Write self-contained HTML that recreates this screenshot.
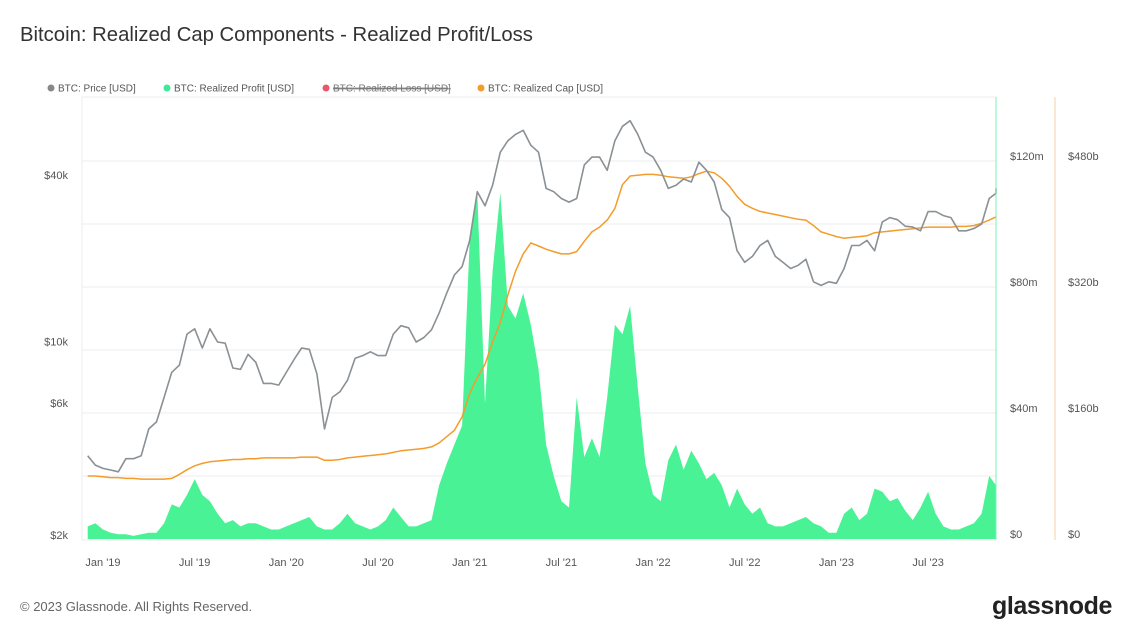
<!DOCTYPE html>
<html><head><meta charset="utf-8">
<style>
body{margin:0;background:#fff;width:1137px;height:631px;overflow:hidden;font-family:"Liberation Sans",sans-serif;}
svg{position:absolute;left:0;top:0}
text{font-family:"Liberation Sans",sans-serif}
</style></head>
<body>
<svg id="chart" width="1137" height="631">
<text x="20" y="41" font-size="20.3" fill="#333">Bitcoin: Realized Cap Components - Realized Profit/Loss</text>
<g font-size="10" fill="#555">
 <g><circle cx="51" cy="88" r="3.5" fill="#888"/><text x="58" y="91.5">BTC: Price [USD]</text></g>
 <g><circle cx="167" cy="88" r="3.5" fill="#3ee89a"/><text x="174" y="91.5">BTC: Realized Profit [USD]</text></g>
 <g><circle cx="326" cy="88" r="3.5" fill="#e8576a"/><text x="333" y="91.5" text-decoration="line-through" fill="#777">BTC: Realized Loss [USD]</text><line x1="333" y1="88" x2="448" y2="88" stroke="#777" stroke-width="0.8"/></g>
 <g><circle cx="481" cy="88" r="3.5" fill="#f39c2b"/><text x="488" y="91.5">BTC: Realized Cap [USD]</text></g>
</g>
<g id="grid"></g>
<g id="marks"></g>
<g id="axes"></g>
<text x="20" y="611" font-size="13" fill="#666">© 2023 Glassnode. All Rights Reserved.</text>
<text x="992" y="614" font-size="25" fill="#222" font-weight="bold" letter-spacing="-0.4">glassnode</text>
</svg>
<script>
const price=[4000,3700,3600,3550,3500,3900,3900,4000,5000,5300,6500,8000,8500,11000,11500,9800,11500,10300,10200,8300,8200,9300,8700,7300,7300,7200,8000,8900,9800,9700,7900,5000,6500,6800,7500,9000,9200,9500,9200,9200,11000,11800,11600,10300,10700,11400,13100,15500,18000,19300,24000,36000,32000,38000,50000,55000,58000,60000,53000,50000,37000,36000,34000,33000,34000,45000,48000,48000,43000,55000,62000,65000,58000,50000,48000,43000,37000,38000,40000,39000,46000,43000,39000,31000,29000,22000,20000,21000,23000,24000,21000,20000,19000,19500,20500,17000,16500,17000,16800,19000,23000,23000,24000,22000,28000,29000,28500,27000,26800,26000,30500,30500,29500,29000,26000,26000,26500,27500,34000,35500,37000];
const realizedCap=[80,80,79,78,78,77,77,76,76,76,76,77,82,88,93,96,98,99,100,101,101,102,102,103,103,103,103,103,104,104,104,100,100,101,103,104,105,106,107,108,110,112,113,114,115,117,122,130,138,155,185,205,222,250,275,310,340,362,376,372,368,365,362,362,365,378,390,396,405,420,450,461,462,463,463,462,460,459,458,460,464,467,465,458,448,435,425,420,416,414,412,410,408,406,405,398,390,387,384,382,383,384,385,389,390,391,392,393,394,395,396,396,396,396,397,397,398,401,405,409];
const realizedProfit=[4,5,3,2,1.5,1.5,1,1.5,2,2,5,11,10,14,19,14,12,8,5,6,4,5,5,4,3,3,4,5,6,7,4,3,3,5,8,5,4,3,4,6,10,7,4,4,5,6,17,24,30,36,95,110,43,85,110,74,70,78,68,54,30,20,12,10,45,26,32,26,45,68,65,74,48,24,14,12,25,30,22,28,24,19,21,17,10,16,11,8,10,5,4,4,5,6,7,5,4,2,2,8,10,6,8,16,15,12,13,9,6,10,15,8,4,3,3,4,5,8,20,17];
const xTickLabels=["Jan '19","Jul '19","Jan '20","Jul '20","Jan '21","Jul '21","Jan '22","Jul '22","Jan '23","Jul '23"];
const xTickMonths=[1,7,13,19,25,31,37,43,49,55];
const priceTicks=[2000,6000,10000,40000];
const priceTickLabels=["$2k","$6k","$10k","$40k"];
const profitTicks=[0,40,80,120];
const profitTickLabels=["$0","$40m","$80m","$120m"];
const capTicks=[0,160,320,480];
const capTickLabels=["$0","$160b","$320b","$480b"];

const NS="http://www.w3.org/2000/svg";
const L=82,R=996,T=97,B=539;
const xm=m=>87.7+15.28*m;
const xi=i=>xm(i/2);
const yPrice=p=>B-(Math.log10(p)-Math.log10(2000))*276.7;
const yProfit=v=>B-v/40*126;
const yCap=v=>B-v/160*126;
function mk(tag,attrs,parent){const e=document.createElementNS(NS,tag);for(const k in attrs)e.setAttribute(k,attrs[k]);parent.appendChild(e);return e;}
const grid=document.getElementById('grid'),marks=document.getElementById('marks'),axes=document.getElementById('axes');

[161,224,287,350,413,476].forEach(y=>{const l=mk('line',{x1:L,x2:R,y1:y,y2:y,stroke:'#ececec','stroke-width':1},grid);});
const frame=mk('rect',{x:L,y:T,width:R-L,height:B-T+1,fill:'none',stroke:'#eee'},grid);


let d=`M${xi(0)},${B}`;
realizedProfit.forEach((v,i)=>{d+=`L${Math.min(R,xi(i)).toFixed(1)},${yProfit(v).toFixed(1)}`;});
d+=`L${R},${B}Z`;
const area=mk('path',{d:d,fill:'#4af296'},marks);


function line(arr,yf,color,w,name){let p='';arr.forEach((v,i)=>{p+=(i?'L':'M')+Math.max(L,Math.min(R,xi(i))).toFixed(1)+','+yf(v).toFixed(1);});const e=mk('path',{d:p,fill:'none',stroke:color,'stroke-width':w,'stroke-linejoin':'round'},marks);}
line(realizedCap,yCap,'#f39c2b',1.5,'realized-cap-line');
line(price,yPrice,'#8a9094',1.6,'price-line');

const ga=mk('line',{x1:R,x2:R,y1:T,y2:B+1,stroke:'#7ef0b8','stroke-width':1},axes);

const oa=mk('line',{x1:1055,x2:1055,y1:T,y2:B+1,stroke:'#f8cfa0','stroke-width':1},axes);


function lbl(x,y,t,anchor,name){const e=mk('text',{x:x,y:y,'font-size':11,fill:'#555','text-anchor':anchor},axes);e.textContent=t;}
xTickMonths.forEach((m,i)=>lbl(xm(m),566,xTickLabels[i],'middle','x-tick-label'));
priceTicks.forEach((p,i)=>lbl(68,yPrice(p),priceTickLabels[i],'end','price-tick-label'));
profitTicks.forEach((v,i)=>lbl(1010,yProfit(v)-1,profitTickLabels[i],'start','profit-tick-label'));
capTicks.forEach((v,i)=>lbl(1068,yCap(v)-1,capTickLabels[i],'start','cap-tick-label'));
</script>
</body></html>
